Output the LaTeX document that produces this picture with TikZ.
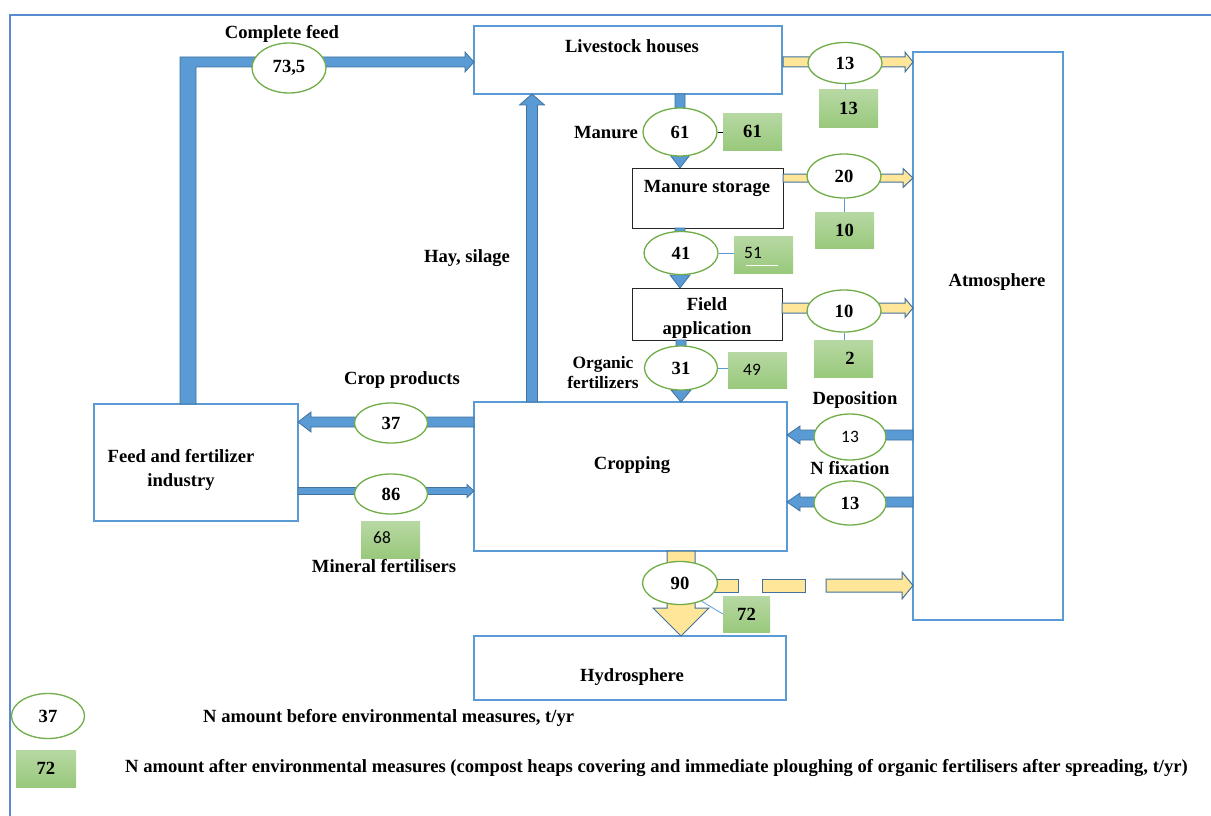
\documentclass[tikz,border=0pt]{standalone}
\usepackage{fontspec}
\setmainfont{Liberation Serif}
\newfontfamily\numsans{Carlito}
\usetikzlibrary{shapes.geometric}
\definecolor{boxblue}{HTML}{5B9BD5}
\definecolor{arrowedge}{HTML}{41719C}
\definecolor{yel}{HTML}{FFE699}
\definecolor{ellgreen}{HTML}{70AD47}
\definecolor{gtop}{HTML}{B7D8A3}
\definecolor{gbot}{HTML}{99C97C}
\definecolor{framec}{HTML}{5A8AD0}
\newcommand\fs{\fontsize{18.6}{24}\selectfont}
\newcommand\fss{\fontsize{17.4}{20}\selectfont}
\newcommand\hArrow[7]{%
  \pgfmathsetmacro\hbase{#3-(#6)*sign(#3-#2)}%
  \draw[#1] (#2,#4-#5) -- (\hbase,#4-#5) -- (\hbase,#4-#7) -- (#3,#4) -- (\hbase,#4+#7) -- (\hbase,#4+#5) -- (#2,#4+#5) -- cycle;}
\newcommand\vArrow[7]{%
  \pgfmathsetmacro\vbase{#3-(#6)*sign(#3-#2)}%
  \draw[#1] (#4-#5,#2) -- (#4-#5,\vbase) -- (#4-#7,\vbase) -- (#4,#3) -- (#4+#7,\vbase) -- (#4+#5,\vbase) -- (#4+#5,#2) -- cycle;}
\newcommand\boxat[6]{%
  \node[#2, minimum width={(#5-#3)*1pt}, minimum height={(#6-#4)*1pt}] (#1) at ({(#3+#5)/2},{(#4+#6)/2}) {};}
\tikzset{
  bluebox/.style={draw=boxblue, line width=2.5pt, fill=white, inner sep=0pt},
  blackbox/.style={draw=black!85, line width=1pt, fill=white, inner sep=0pt},
  ell/.style={ellipse, draw=ellgreen, line width=1.3pt, fill=white, inner sep=0pt, font=\bfseries\fs},
  gbox/.style={top color=gtop, bottom color=gbot, draw=none, inner sep=0pt},
  barrow/.style={fill=boxblue, draw=arrowedge, line width=0.8pt, line join=miter},
  yarrow/.style={fill=yel, draw=arrowedge, line width=1pt, line join=miter},
  lbl/.style={font=\bfseries\fs, align=center, inner sep=0pt},
  slbl/.style={font=\numsans\fss, inner sep=0pt},
  conn/.style={draw=boxblue, line width=0.8pt}
}
\begin{document}
\begin{tikzpicture}[x=1pt,y=-1pt]
\useasboundingbox (0,0) rectangle (1211,816);
% frame
\draw[framec, line width=1.5pt] (10,816) -- (10,15) -- (1211,15);
% boxes
\boxat{live}{bluebox}{474}{26}{782}{94}
\boxat{atm}{bluebox}{913}{52}{1063}{620}
\boxat{feed}{bluebox}{94}{404}{298}{521}
\boxat{crop}{bluebox}{474}{402}{787}{551}
\boxat{hydro}{bluebox}{474}{636}{786}{700}
\boxat{stor}{blackbox}{632}{168}{783}{228}
\boxat{field}{blackbox}{632}{288}{782}{340}
% box texts
\node[lbl] (tlive) at (632,46) {Livestock houses};
\node[lbl] (tatm) at (997,282) {Atmosphere};
\node[lbl] (tfeed) at (181,470) {Feed and fertilizer\\industry};
\node[lbl] (tcrop) at (632,465) {Cropping};
\node[lbl] (thydro) at (632,677) {Hydrosphere};
\node[lbl] (tstor) at (707,188) {Manure storage};
\node[lbl] (tfield) at (707,318) {Field\\application};
% blue arrows
\draw[barrow] (180,404) -- (180,57) -- (465,57) -- (465,52) -- (474,62) -- (465,72) -- (465,67) -- (196,67) -- (196,404) -- cycle;
\vArrow{barrow}{402}{94}{532}{5.5}{11}{12.5}
\vArrow{barrow}{94}{168}{680}{5}{13}{10}
\vArrow{barrow}{228}{288}{680}{5}{13}{10}
\vArrow{barrow}{340}{402}{681}{5}{12}{10}
\hArrow{barrow}{474}{298}{422}{5}{13}{10}
\hArrow{barrow}{298}{474}{491}{3.5}{7}{6.5}
\hArrow{barrow}{913}{787}{435}{5}{13}{9}
\hArrow{barrow}{913}{787}{502}{5}{13}{9}
% yellow arrows
\hArrow{yarrow}{783}{913}{62}{5}{8}{10}
\hArrow{yarrow}{783}{913}{178}{4}{10}{9.5}
\hArrow{yarrow}{782}{913}{308}{5}{8}{9.5}
\vArrow{yarrow}{551}{636}{681}{14}{28}{28}
\draw[yarrow] (690,579) rectangle (738,592);
\draw[yarrow] (762,579) rectangle (805,592);
\hArrow{yarrow}{826}{913}{585.5}{6.5}{11}{13.5}
% ellipses
\node[ell, minimum width=74pt, minimum height=50pt] (e735) at (289,68) {73,5};
\node[ell, minimum width=74pt, minimum height=41pt] (e13a) at (845,63) {13};
\node[ell, minimum width=74pt, minimum height=48pt] (e61) at (680,132) {61};
\node[ell, minimum width=74pt, minimum height=44pt] (e20) at (844,176) {20};
\node[ell, minimum width=74pt, minimum height=43pt] (e41) at (681,253) {41};
\node[ell, minimum width=74pt, minimum height=42pt] (e10) at (844,311) {10};
\node[ell, minimum width=73pt, minimum height=44pt] (e31) at (681,368) {31};
\node[ell, minimum width=73pt, minimum height=40pt] (e37) at (391,423) {37};
\node[ell, minimum width=73pt, minimum height=40pt] (e86) at (391,494) {86};
\node[ell, minimum width=72pt, minimum height=46pt, font=\numsans\fss] (edep) at (850,437) {13};
\node[ell, minimum width=72pt, minimum height=44pt] (efix) at (850,503) {13};
\node[ell, minimum width=75pt, minimum height=43pt] (e90) at (680,583) {90};
\node[ell, minimum width=73pt, minimum height=45pt] (eleg) at (48,716) {37};
% green boxes
\boxat{g61}{gbox}{723}{113}{782}{150}
\boxat{g13}{gbox}{819}{90}{878}{127}
\boxat{g10}{gbox}{815}{212}{874}{248}
\boxat{g51}{gbox}{734}{236}{793}{273}
\boxat{g2}{gbox}{814}{340}{873}{377}
\boxat{g49}{gbox}{728}{352}{787}{388}
\boxat{g68}{gbox}{361}{521}{420}{558}
\boxat{g72}{gbox}{723}{596}{770}{632}
\boxat{gleg}{gbox}{16}{750}{76}{787}
\node[lbl] at (g61) {61};
\node[lbl] at (g13) {13};
\node[lbl] at (g10) {10};
\node[slbl] at (753,253) {51};
\draw[white, line width=1pt] (746,265) -- (778,265);
\node[lbl] at (850,358) {2};
\node[slbl] at (752,370) {49};
\node[slbl] at (382,538) {68};
\node[lbl] at (g72) {72};
\node[lbl] at (gleg) {72};
% thin connectors
\draw[black, line width=0.8pt] (e61.east) -- (e61.east -| g61.west);
\draw[conn] (e13a.south) -- (e13a.south |- g13.north);
\draw[conn] (e20.south) -- (e20.south |- g10.north);
\draw[conn] (e41.east) -- (e41.east -| g51.west);
\draw[conn] (e10.south) -- (e10.south |- g2.north);
\draw[conn] (e31.east) -- (e31.east -| g49.west);
\draw[conn] (e90.-40) -- (g72.west);
% labels
\node[lbl] (lcf) at (282,34) {Complete feed};
\node[lbl, anchor=east] (lman) at (638,133) {Manure};
\node[lbl] (lhay) at (467,258) {Hay, silage};
\node[lbl, font=\bfseries\fss] (lorg) at (603,373) {Organic\\fertilizers};
\node[lbl] (lcp) at (402,380) {Crop products};
\node[lbl] (lmf) at (384,566) {Mineral fertilisers};
\node[lbl] (ldep) at (855,400) {Deposition};
\node[lbl] (lfix) at (850,468) {N fixation};
\node[lbl, anchor=west] (leg1) at (203,718) {N amount before environmental measures, t/yr};
\node[lbl, anchor=west] (leg2) at (125,768) {N amount after environmental measures (compost heaps covering and immediate ploughing of organic fertilisers after spreading, t/yr)};
\end{tikzpicture}
\end{document}
